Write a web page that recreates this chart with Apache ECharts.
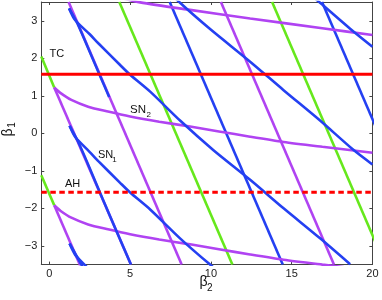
<!DOCTYPE html>
<html>
<head>
<meta charset="utf-8">
<script src="https://cdn.jsdelivr.net/npm/echarts@6/dist/echarts.min.js"></script>
<style>
html,body{margin:0;padding:0;background:#fff;}
#c{width:382px;height:300px;}
</style>
</head>
<body>
<div id="c"></div>
<script>
// ---- axis data ----
const xRange = [-0.5, 20];
const yRange = [-3.5, 3.5];
const xTicks = [0, 5, 10, 15, 20];
const yTicks = [-3, -2, -1, 0, 1, 2, 3];

// ---- horizontal lines ----
const tcLine = [[-0.5, 1.5708], [20, 1.5708]];
const ahLine = [[-0.5, -1.5708], [20, -1.5708]];

// ---- steep straight lines (beta2, beta1) ----
const greenLeftLow  = [[-0.5, -1.12], [0.3, -1.92]];
const purpleLeftLow = [[0.3, -1.92], [1.9, -3.52]];
const greenLeftUp   = [[-0.5, 2.05], [0.3, 1.22]];
const purpleLeftUp  = [[0.3, 1.22], [5.05, -3.5]];
const purpleLine1   = [[1.19, 3.5], [8.19, -3.5]];
const greenLine2    = [[4.33, 3.5], [11.33, -3.5]];
const blueLine3     = [[7.45, 3.5], [14.45, -3.5]];
const purpleLine4   = [[10.62, 3.5], [17.62, -3.5]];
const greenLine5    = [[13.79, 3.5], [20.79, -3.5]];
const blueLine6     = [[16.88, 3.5], [23.88, -3.5]];

// ---- SN2 curves (purple) ----
const sn2Low = [[0.3, -1.92], [0.7, -2.07], [1.36, -2.25], [2.4, -2.43], [3.63, -2.56], [5.0, -2.69], [6.8, -2.83], [8.71, -2.96], [10.5, -3.09], [12.43, -3.23], [14.5, -3.37], [16.9, -3.5], [20, -3.66]];
const sn2Mid = [[0.3, 1.22], [0.7, 1.07], [1.36, 0.89], [2.4, 0.71], [3.63, 0.58], [5.0, 0.45], [6.8, 0.31], [8.71, 0.18], [10.5, 0.05], [12.43, -0.09], [14.5, -0.23], [16.9, -0.36], [20, -0.52]];
const sn2Top = [[4.5, 3.6], [5.62, 3.49], [8.71, 3.29], [12.43, 3.06], [16.9, 2.8], [20, 2.62]];

// ---- SN1 curves (blue) ----
const sn1LowShallow = [[1.25, -2.94], [1.6, -3.24], [2.5, -3.64]];
const sn1LowSteep   = [[1.25, -2.94], [1.7, -3.28], [2.05, -3.56]];
const sn1MidShallow = [[1.25, 0.2], [1.6, -0.1], [2.5, -0.5], [3.03, -0.74], [4.38, -1.32], [5.0, -1.58], [6.24, -2.03], [8.09, -2.8], [9.95, -3.5], [12.43, -4.38]];
const sn1MidSteep   = [[1.25, 0.2], [1.75, -0.2], [2.4, -0.83], [3.3, -1.75], [5.05, -3.5]];
const sn1UpShallow  = [[1.22, 3.33], [1.59, 3.02], [2.5, 2.64], [3.03, 2.4], [4.38, 1.82], [5.0, 1.56], [6.24, 1.11], [8.09, 0.34], [10.16, -0.45], [12.43, -1.24], [14.5, -2.0], [16.76, -2.8], [18.62, -3.49]];
const sn1UpSteep    = [[1.22, 3.33], [1.72, 2.94], [2.35, 2.32], [3.2, 1.47], [3.7, 0.97]];
const sn1Top2       = [[6.24, 4.25], [8.09, 3.48], [9.95, 2.78], [12.43, 1.91], [14.5, 1.15], [16.76, 0.34], [18.82, -0.44], [20, -0.83]];
const sn1Top3       = [[14.5, 4.29], [16.76, 3.48], [18.62, 2.79], [20, 2.31]];

// ---- styles ----
const BLUE = '#2440f2';
const PURPLE = '#b043f2';
const GREEN = '#66e81c';
const RED = '#ff0000';
const FONT = 'Liberation Sans, Arial, sans-serif';
const AX = '#444';

function ln(data, color, opts) {
  opts = opts || {};
  return {
    type: 'line',
    data: data,
    showSymbol: false,
    symbol: 'none',
    smooth: opts.smooth ? 0.25 : false,
    clip: true,
    silent: true,
    z: opts.z || 2,
    lineStyle: { color: color, width: opts.width || 2.6, type: opts.type || 'solid', dashOffset: 0 }
  };
}

const fmt = v => (v < 0 ? '\u2212' + Math.abs(v) : String(v));

const chart = echarts.init(document.getElementById('c'), null, { renderer: 'canvas' });

const series = [
  ln(purpleLine1, PURPLE),
  ln(purpleLine4, PURPLE),
  ln(greenLine2, GREEN),
  ln(greenLine5, GREEN),
  ln(blueLine3, BLUE),
  ln(blueLine6, BLUE),
  ln(sn2Low, PURPLE, { smooth: true }),
  ln(sn2Mid, PURPLE, { smooth: true }),
  ln(sn2Top, PURPLE, { smooth: true }),
  ln(greenLeftLow, GREEN),
  ln(greenLeftUp, GREEN),
  ln(purpleLeftLow, PURPLE),
  ln(purpleLeftUp, PURPLE),
  ln(sn1LowShallow, BLUE, { smooth: true, z: 3 }),
  ln(sn1LowSteep, BLUE, { smooth: true, z: 3 }),
  ln(sn1MidShallow, BLUE, { smooth: true, z: 3 }),
  ln(sn1MidSteep, BLUE, { smooth: true, z: 3 }),
  ln(sn1UpShallow, BLUE, { smooth: true, z: 3 }),
  ln(sn1UpSteep, BLUE, { smooth: true, z: 3 }),
  ln(sn1Top2, BLUE, { smooth: true, z: 3 }),
  ln(sn1Top3, BLUE, { smooth: true, z: 3 }),
  ln(tcLine, RED, { width: 3, z: 4 }),
  ln(ahLine, RED, { width: 3, z: 4, type: [5.5, 3.5] })
];

function xAx(pos, showLabel) {
  return {
    type: 'value', min: xRange[0], max: xRange[1], position: pos,
    axisLine: { show: true, onZero: false, lineStyle: { color: AX, width: 1 } },
    axisTick: { show: true, inside: true, length: 3, customValues: xTicks, lineStyle: { color: AX } },
    axisLabel: { show: showLabel, customValues: xTicks, margin: 4, fontSize: 11, color: '#222', fontFamily: FONT, formatter: fmt },
    splitLine: { show: false }
  };
}
function yAx(pos, showLabel) {
  return {
    type: 'value', min: yRange[0], max: yRange[1], position: pos,
    axisLine: { show: true, onZero: false, lineStyle: { color: AX, width: 1 } },
    axisTick: { show: true, inside: true, length: 3, customValues: yTicks, lineStyle: { color: AX } },
    axisLabel: { show: showLabel, customValues: yTicks, margin: 4, fontSize: 11, color: '#222', fontFamily: FONT, formatter: fmt },
    splitLine: { show: false }
  };
}

const txt = (t, l, tp, size) => ({
  type: 'text', left: l, top: tp, silent: true,
  style: { text: t, fontSize: size, fontFamily: FONT, fill: '#111' }
});

chart.setOption({
  animation: false,
  backgroundColor: '#fff',
  grid: { left: 41.3, right: 9.6, top: 2, bottom: 35.4, containLabel: false, outerBoundsMode: 'none' },
  xAxis: [xAx('bottom', true), xAx('top', false)],
  yAxis: [yAx('left', true), yAx('right', false)],
  series: series,
  graphic: [
    txt('TC', 49.5, 48.5, 11),
    txt('AH', 65, 178.5, 11),
    txt('SN', 98, 149.5, 11),
    txt('1', 112.3, 156, 8),
    txt('SN', 130, 104, 11.5),
    txt('2', 146.5, 110.5, 8),
    txt('\u03b2', 199.5, 275.5, 14),
    txt('2', 207, 283.5, 10),
    {
      type: 'group', x: 8.5, y: 132.5, rotation: Math.PI / 2, silent: true,
      children: [
        { type: 'text', x: 0, y: 0, style: { text: '\u03b2', fontSize: 14, fontFamily: FONT, fill: '#111', align: 'center', verticalAlign: 'middle' } },
        { type: 'text', x: 7.5, y: 4, style: { text: '1', fontSize: 10, fontFamily: FONT, fill: '#111', align: 'center', verticalAlign: 'middle' } }
      ]
    }
  ]
});
</script>
</body>
</html>
